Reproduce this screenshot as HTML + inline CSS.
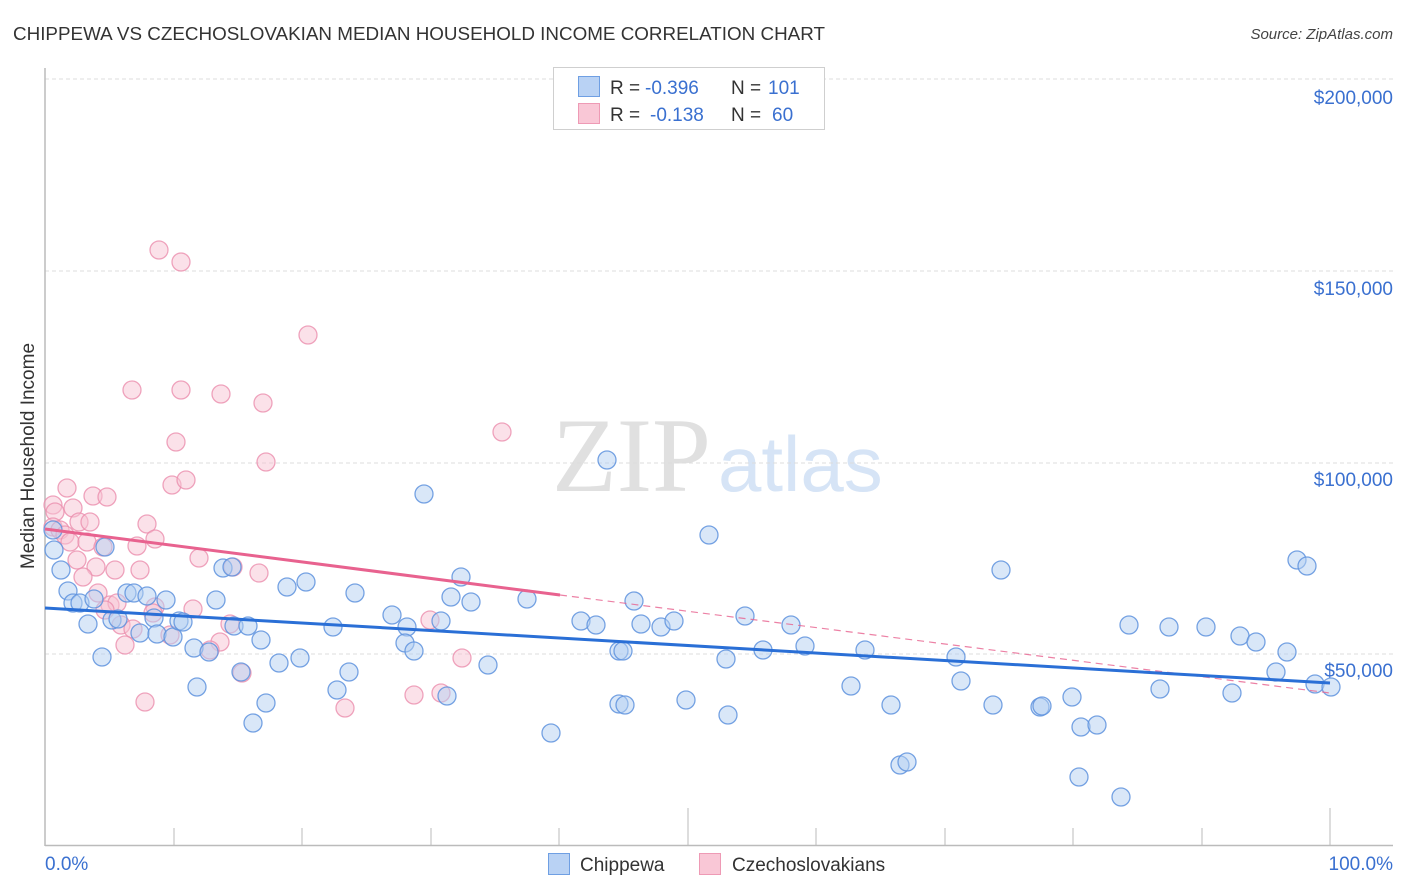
<!DOCTYPE html>
<html><head><meta charset="utf-8"><style>
html,body{margin:0;padding:0;background:#fff;}
svg{display:block;font-family:"Liberation Sans",sans-serif;}
</style></head><body>
<svg width="1406" height="892" viewBox="0 0 1406 892" xmlns="http://www.w3.org/2000/svg">
<rect width="1406" height="892" fill="#fff"/>
<text x="13" y="40" font-size="18.5" fill="#333" textLength="812" lengthAdjust="spacingAndGlyphs">CHIPPEWA VS CZECHOSLOVAKIAN MEDIAN HOUSEHOLD INCOME CORRELATION CHART</text>
<text x="1393" y="39" font-size="15" fill="#444" font-style="italic" text-anchor="end">Source: ZipAtlas.com</text>

<!-- watermark -->
<text x="552" y="491" font-family="Liberation Serif,serif" font-size="106" fill="#e0e0e0">ZIP</text>
<text x="718" y="491" font-size="78" fill="#d6e4f6">atlas</text>

<!-- grid -->
<g stroke="#dcdcdc" stroke-width="1" stroke-dasharray="4,3">
<line x1="45" y1="79" x2="1393" y2="79"/>
<line x1="45" y1="271" x2="1393" y2="271"/>
<line x1="45" y1="463" x2="1393" y2="463"/>
<line x1="45" y1="654" x2="1393" y2="654"/>
</g>
<g font-size="19" fill="#3a70d0" text-anchor="end">
<text x="1393" y="104">$200,000</text>
<text x="1393" y="295">$150,000</text>
<text x="1393" y="486">$100,000</text>
<text x="1393" y="677">$50,000</text>
</g>

<!-- axes -->
<line x1="45" y1="68" x2="45" y2="846" stroke="#bbb" stroke-width="1.5"/>
<line x1="45" y1="845.5" x2="1393" y2="845.5" stroke="#bbb" stroke-width="1.5"/>
<g stroke="#bbb" stroke-width="1">
<line x1="174" y1="828" x2="174" y2="845"/>
<line x1="302" y1="828" x2="302" y2="845"/>
<line x1="431" y1="828" x2="431" y2="845"/>
<line x1="559" y1="828" x2="559" y2="845"/>
<line x1="688" y1="808" x2="688" y2="845"/>
<line x1="816" y1="828" x2="816" y2="845"/>
<line x1="945" y1="828" x2="945" y2="845"/>
<line x1="1073" y1="828" x2="1073" y2="845"/>
<line x1="1202" y1="828" x2="1202" y2="845"/>
<line x1="1330" y1="808" x2="1330" y2="845"/>
</g>

<text transform="translate(34,456) rotate(-90)" font-size="19" fill="#333" text-anchor="middle">Median Household Income</text>

<!-- pink points -->
<g fill="#f7c3d3" fill-opacity="0.5" stroke="#eb8fae" stroke-opacity="0.8" stroke-width="1.3">
<circle cx="159" cy="250" r="9"/><circle cx="181" cy="262" r="9"/><circle cx="308" cy="335" r="9"/>
<circle cx="132" cy="390" r="9"/><circle cx="181" cy="390" r="9"/><circle cx="221" cy="394" r="9"/>
<circle cx="263" cy="403" r="9"/><circle cx="176" cy="442" r="9"/><circle cx="266" cy="462" r="9"/>
<circle cx="172" cy="485" r="9"/><circle cx="186" cy="480" r="9"/><circle cx="502" cy="432" r="9"/>
<circle cx="67" cy="488" r="9"/><circle cx="93" cy="496" r="9"/><circle cx="107" cy="497" r="9"/>
<circle cx="53" cy="505" r="9"/><circle cx="55" cy="512" r="9"/><circle cx="73" cy="508" r="9"/>
<circle cx="79" cy="522" r="9"/><circle cx="90" cy="522" r="9"/><circle cx="147" cy="524" r="9"/>
<circle cx="53" cy="527" r="9"/><circle cx="60" cy="530" r="9"/><circle cx="65" cy="535" r="9"/>
<circle cx="70" cy="542" r="9"/><circle cx="87" cy="542" r="9"/><circle cx="137" cy="546" r="9"/>
<circle cx="155" cy="539" r="9"/><circle cx="103" cy="547" r="9"/><circle cx="77" cy="560" r="9"/>
<circle cx="96" cy="567" r="9"/><circle cx="115" cy="570" r="9"/><circle cx="140" cy="570" r="9"/>
<circle cx="83" cy="577" r="9"/><circle cx="199" cy="558" r="9"/><circle cx="259" cy="573" r="9"/>
<circle cx="233" cy="567" r="9"/><circle cx="98" cy="593" r="9"/><circle cx="110" cy="605" r="9"/>
<circle cx="117" cy="603" r="9"/><circle cx="105" cy="610" r="9"/><circle cx="155" cy="607" r="9"/>
<circle cx="153" cy="613" r="9"/><circle cx="193" cy="609" r="9"/><circle cx="121" cy="625" r="9"/>
<circle cx="133" cy="629" r="9"/><circle cx="125" cy="645" r="9"/><circle cx="170" cy="635" r="9"/>
<circle cx="230" cy="624" r="9"/><circle cx="220" cy="642" r="9"/><circle cx="210" cy="650" r="9"/>
<circle cx="242" cy="673" r="9"/><circle cx="145" cy="702" r="9"/><circle cx="430" cy="620" r="9"/>
<circle cx="462" cy="658" r="9"/><circle cx="414" cy="695" r="9"/><circle cx="441" cy="693" r="9"/>
<circle cx="345" cy="708" r="9"/>
</g>

<!-- blue points -->
<g fill="#b4cff2" fill-opacity="0.5" stroke="#5f93de" stroke-opacity="0.85" stroke-width="1.3">
<circle cx="53" cy="530" r="9"/><circle cx="54" cy="550" r="9"/><circle cx="105" cy="547" r="9"/>
<circle cx="61" cy="570" r="9"/><circle cx="68" cy="591" r="9"/><circle cx="73" cy="603" r="9"/>
<circle cx="80" cy="603" r="9"/><circle cx="94" cy="599" r="9"/><circle cx="127" cy="593" r="9"/>
<circle cx="134" cy="593" r="9"/><circle cx="147" cy="596" r="9"/><circle cx="166" cy="600" r="9"/>
<circle cx="216" cy="600" r="9"/><circle cx="223" cy="568" r="9"/><circle cx="232" cy="567" r="9"/>
<circle cx="287" cy="587" r="9"/><circle cx="306" cy="582" r="9"/><circle cx="88" cy="624" r="9"/>
<circle cx="112" cy="620" r="9"/><circle cx="118" cy="619" r="9"/><circle cx="140" cy="633" r="9"/>
<circle cx="154" cy="618" r="9"/><circle cx="157" cy="634" r="9"/><circle cx="173" cy="637" r="9"/>
<circle cx="179" cy="621" r="9"/><circle cx="183" cy="622" r="9"/><circle cx="194" cy="648" r="9"/>
<circle cx="209" cy="652" r="9"/><circle cx="234" cy="626" r="9"/><circle cx="248" cy="626" r="9"/>
<circle cx="261" cy="640" r="9"/><circle cx="102" cy="657" r="9"/><circle cx="241" cy="672" r="9"/>
<circle cx="279" cy="663" r="9"/><circle cx="300" cy="658" r="9"/><circle cx="197" cy="687" r="9"/>
<circle cx="266" cy="703" r="9"/><circle cx="253" cy="723" r="9"/>
<circle cx="607" cy="460" r="9"/><circle cx="424" cy="494" r="9"/><circle cx="355" cy="593" r="9"/>
<circle cx="461" cy="577" r="9"/><circle cx="451" cy="597" r="9"/><circle cx="471" cy="602" r="9"/>
<circle cx="527" cy="599" r="9"/><circle cx="333" cy="627" r="9"/><circle cx="392" cy="615" r="9"/>
<circle cx="407" cy="627" r="9"/><circle cx="441" cy="621" r="9"/><circle cx="405" cy="643" r="9"/>
<circle cx="414" cy="651" r="9"/><circle cx="488" cy="665" r="9"/><circle cx="581" cy="621" r="9"/>
<circle cx="596" cy="625" r="9"/><circle cx="619" cy="651" r="9"/><circle cx="349" cy="672" r="9"/>
<circle cx="337" cy="690" r="9"/><circle cx="447" cy="696" r="9"/><circle cx="551" cy="733" r="9"/>
<circle cx="619" cy="704" r="9"/>
<circle cx="709" cy="535" r="9"/><circle cx="634" cy="601" r="9"/><circle cx="641" cy="624" r="9"/>
<circle cx="661" cy="627" r="9"/><circle cx="674" cy="621" r="9"/><circle cx="745" cy="616" r="9"/>
<circle cx="791" cy="625" r="9"/><circle cx="1001" cy="570" r="9"/><circle cx="623" cy="651" r="9"/>
<circle cx="726" cy="659" r="9"/><circle cx="763" cy="650" r="9"/><circle cx="805" cy="646" r="9"/>
<circle cx="865" cy="650" r="9"/><circle cx="956" cy="657" r="9"/><circle cx="961" cy="681" r="9"/>
<circle cx="851" cy="686" r="9"/><circle cx="625" cy="705" r="9"/><circle cx="686" cy="700" r="9"/>
<circle cx="728" cy="715" r="9"/><circle cx="891" cy="705" r="9"/><circle cx="993" cy="705" r="9"/>
<circle cx="900" cy="765" r="9"/><circle cx="907" cy="762" r="9"/>
<circle cx="1297" cy="560" r="9"/><circle cx="1307" cy="566" r="9"/><circle cx="1129" cy="625" r="9"/>
<circle cx="1169" cy="627" r="9"/><circle cx="1206" cy="627" r="9"/><circle cx="1240" cy="636" r="9"/>
<circle cx="1256" cy="642" r="9"/><circle cx="1287" cy="652" r="9"/><circle cx="1276" cy="672" r="9"/>
<circle cx="1315" cy="684" r="9"/><circle cx="1331" cy="687" r="9"/><circle cx="1040" cy="707" r="9"/>
<circle cx="1042" cy="706" r="9"/><circle cx="1072" cy="697" r="9"/><circle cx="1160" cy="689" r="9"/>
<circle cx="1232" cy="693" r="9"/><circle cx="1081" cy="727" r="9"/><circle cx="1097" cy="725" r="9"/>
<circle cx="1079" cy="777" r="9"/><circle cx="1121" cy="797" r="9"/>
</g>

<!-- regression lines -->
<line x1="560" y1="595" x2="1330" y2="693" stroke="#e8628f" stroke-width="1.2" stroke-dasharray="7,5" opacity="0.8"/>
<line x1="45" y1="529" x2="560" y2="595" stroke="#e8628f" stroke-width="3"/>
<line x1="45" y1="608" x2="1330" y2="683" stroke="#2a6fd6" stroke-width="3"/>

<!-- top legend -->
<rect x="553.5" y="67.5" width="271" height="62" fill="#fff" stroke="#cfcfcf" stroke-width="1"/>
<rect x="578.5" y="76.5" width="21" height="20" fill="#b9d2f4" stroke="#6f9fe3" stroke-width="1"/>
<rect x="578.5" y="103.5" width="21" height="20" fill="#f9c7d6" stroke="#ee9ab5" stroke-width="1"/>
<g font-size="19">
<text x="610" y="94" fill="#333">R =</text>
<text x="645" y="94" fill="#3a70d0">-0.396</text>
<text x="731" y="94" fill="#333">N =</text>
<text x="768" y="94" fill="#3a70d0">101</text>
<text x="610" y="121" fill="#333">R =</text>
<text x="650" y="121" fill="#3a70d0">-0.138</text>
<text x="731" y="121" fill="#333">N =</text>
<text x="772" y="121" fill="#3a70d0">60</text>
</g>

<!-- bottom -->
<text x="45" y="870" font-size="19" fill="#3a70d0">0.0%</text>
<text x="1393" y="870" font-size="19" fill="#3a70d0" text-anchor="end">100.0%</text>
<rect x="548.5" y="853.5" width="21" height="21" fill="#b9d2f4" stroke="#6f9fe3" stroke-width="1"/>
<text x="580" y="871" font-size="19" fill="#333">Chippewa</text>
<rect x="699.5" y="853.5" width="21" height="21" fill="#f9c7d6" stroke="#ee9ab5" stroke-width="1"/>
<text x="732" y="871" font-size="19" fill="#333">Czechoslovakians</text>
</svg>
</body></html>
